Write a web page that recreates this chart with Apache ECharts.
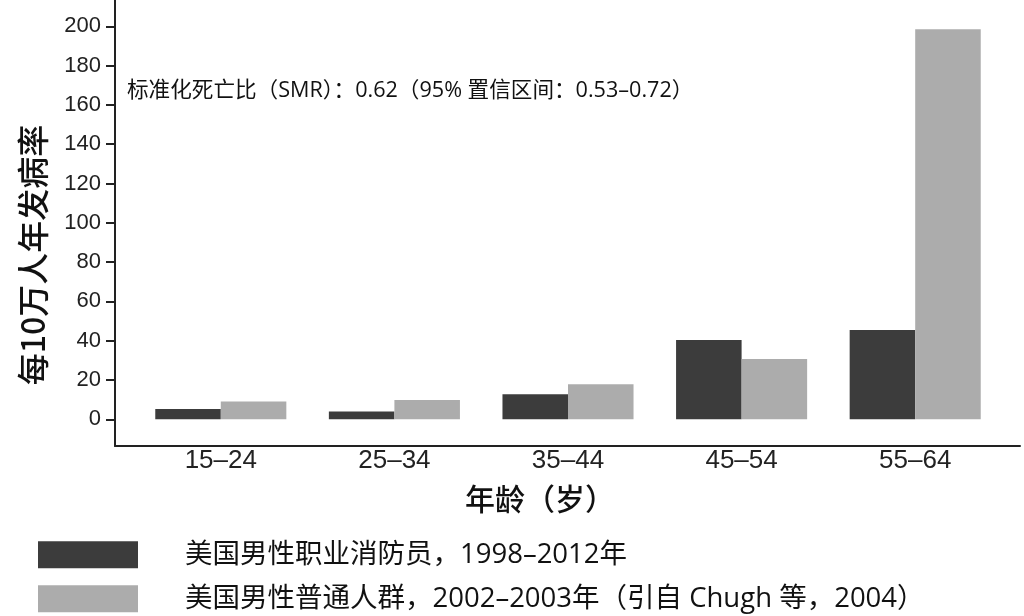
<!DOCTYPE html>
<html>
<head>
<meta charset="utf-8">
<script src="https://cdn.jsdelivr.net/npm/echarts@6/dist/echarts.min.js"></script>
<style>html,body{margin:0;padding:0;background:#fff}#c{width:1024px;height:616px}</style>
</head>
<body>
<div id="c"></div>
<script>
const categories = ['15–24', '25–34', '35–44', '45–54', '55–64'];
const firefighters = [5.2, 3.9, 12.7, 40.4, 45.5];
const generalPop = [9.0, 9.8, 17.8, 30.7, 198.5];
const yTicks = [0, 20, 40, 60, 80, 100, 120, 140, 160, 180, 200];
const seriesNames = ['美国男性职业消防员，1998–2012年', '美国男性普通人群，2002–2003年（引自 Chugh 等，2004）'];
const yTitle = '每10万人年发病率';
const xTitle = '年龄（岁）';
const note = '标准化死亡比（SMR）：0.62（95% 置信区间：0.53–0.72）';

const Y_MIN = -13.6, Y_MAX = 213.4;
const cjk = "'Noto Sans CJK SC', sans-serif";
const mixed = "'Open Sans', 'Noto Sans CJK SC', sans-serif";
const helv = "'Liberation Sans', Arial, sans-serif";

const legendBase = {
  orient: 'vertical', left: 33,
  itemWidth: 100, itemHeight: 27,
  icon: 'rect',
  textStyle: { fontFamily: mixed, fontSize: 27.5, color: '#111', padding: [0, 0, 0, 42] }
};

const chart = echarts.init(document.getElementById('c'));
chart.setOption({
  animation: false,
  backgroundColor: '#fff',
  title: {
    text: note, left: 122, top: 75,
    textStyle: { fontFamily: mixed, fontSize: 21.6, fontWeight: 'normal', color: '#111' }
  },
  legend: [
    Object.assign({}, legendBase, { top: 536, data: [seriesNames[0]] }),
    Object.assign({}, legendBase, { top: 580, data: [seriesNames[1]] })
  ],
  grid: [
    { left: 115, right: 4, top: 0, bottom: 170 },
    { left: 134, right: 22, top: 0, bottom: 170 }
  ],
  xAxis: [
    { gridIndex: 0, type: 'value', min: 0, max: 1,
      axisLine: { show: true, onZero: false, lineStyle: { color: '#222', width: 2 } },
      axisTick: { show: false }, axisLabel: { show: false }, splitLine: { show: false } },
    { gridIndex: 1, type: 'category', data: categories,
      axisLine: { show: false, onZero: false }, axisTick: { show: false },
      axisLabel: { margin: 2, fontFamily: helv, fontSize: 26, color: '#222' } }
  ],
  yAxis: [
    { gridIndex: 0, type: 'value', min: Y_MIN, max: Y_MAX,
      axisLine: { show: true, onZero: false, lineStyle: { color: '#222', width: 2 } },
      axisTick: { show: true, length: 9, customValues: yTicks, lineStyle: { color: '#222', width: 2 } },
      axisLabel: { customValues: yTicks, margin: 14, fontFamily: helv, fontSize: 22, color: '#222' },
      splitLine: { show: false } },
    { gridIndex: 1, type: 'value', min: Y_MIN, max: Y_MAX, show: false, splitLine: { show: false } }
  ],
  series: [
    { name: seriesNames[0], type: 'bar', xAxisIndex: 1, yAxisIndex: 1, data: firefighters,
      barGap: '0%', barCategoryGap: '24.5%', itemStyle: { color: '#3c3c3c' } },
    { name: seriesNames[1], type: 'bar', xAxisIndex: 1, yAxisIndex: 1, data: generalPop,
      itemStyle: { color: '#acacac' } }
  ],
  graphic: [
    { type: 'text', x: 33, y: 255, rotation: Math.PI / 2,
      style: { text: yTitle, fontFamily: cjk, fontSize: 32, fontWeight: 500, fill: '#111', align: 'center', verticalAlign: 'middle' } },
    { type: 'text', x: 540, y: 499,
      style: { text: xTitle, fontFamily: cjk, fontSize: 30, fontWeight: 500, fill: '#111', align: 'center', verticalAlign: 'middle' } }
  ]
});
</script>
</body>
</html>
